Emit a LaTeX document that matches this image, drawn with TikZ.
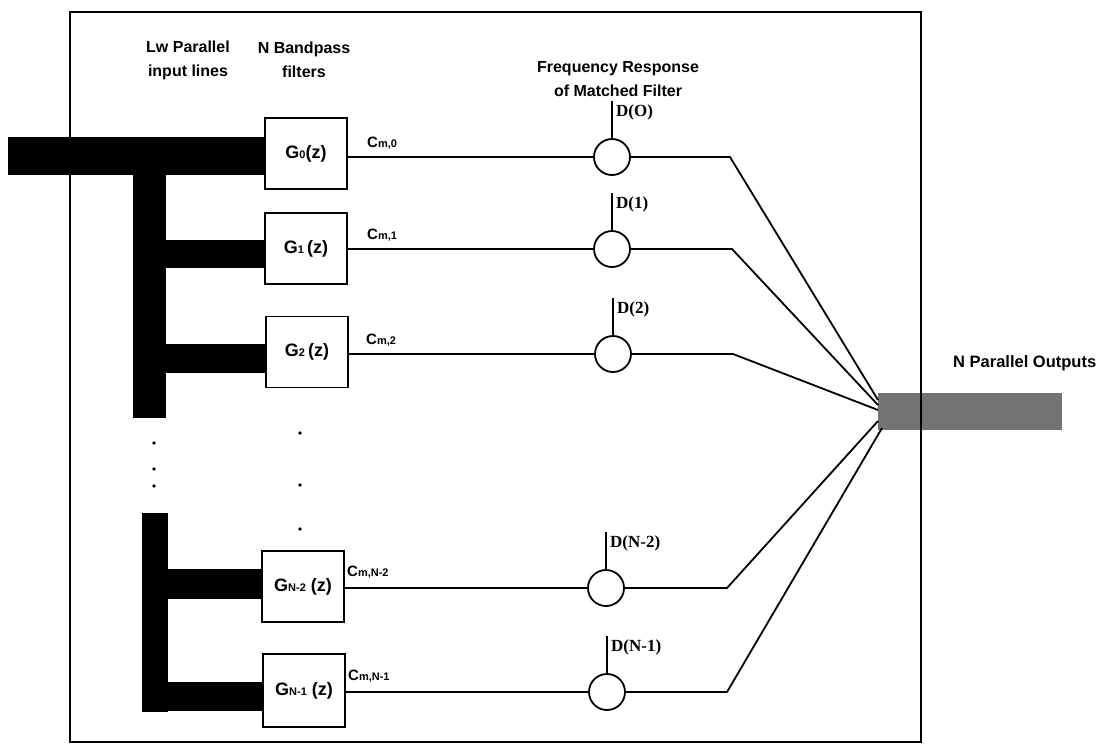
\documentclass[tikz,border=0pt]{standalone}
\usepackage{fontspec}
\setmainfont{Liberation Sans}
\newfontfamily\serifb{Liberation Serif}
\usetikzlibrary{calc}
\newcommand\smtxt[1]{{\fontsize{11}{11}\selectfont #1}}
\begin{document}
\begin{tikzpicture}[x=1pt,y=-1pt,
  lbl/.style={font={\fontsize{16}{24}\selectfont\bfseries}, align=center, inner sep=0},
  gbox/.style={draw, line width=1.8pt, minimum width=82pt, minimum height=71pt, inner sep=0,
               font={\fontsize{18}{18}\selectfont\bfseries}},
  bar/.style={fill=black, draw=none, inner sep=0, anchor=north west},
  mf/.style={circle, draw, line width=1.8pt, minimum size=36pt, inner sep=0},
  dl/.style={font={\serifb\fontsize{17}{19}\selectfont\bfseries}, anchor=west, inner sep=0},
  cl/.style={font={\fontsize{15}{15}\selectfont\bfseries}, anchor=west, inner sep=0},
  wire/.style={line width=1.8pt},
  dotmark/.style={fill=black}
]
\useasboundingbox (0,0) rectangle (1105,745);

% output bundle (under the frame)
\node[bar, fill=black!55, minimum width=184pt, minimum height=37pt] (outbar) at (878,393) {};

% frame
\draw[line width=2pt] (70,12) rectangle (921,742);

% input bundle and branches
\node[bar, minimum width=125pt, minimum height=38pt] (inbar) at (8,137) {};
\node[bar, minimum width=33pt, minimum height=281pt] (vbarA) at (133,137) {};
\node[bar, minimum width=26pt, minimum height=199pt] (vbarB) at (142,513) {};
\node[bar, minimum width=99pt, minimum height=38pt] (br0) at (166,137) {};
\node[bar, minimum width=99pt, minimum height=28pt] (br1) at (166,240) {};
\node[bar, minimum width=100pt, minimum height=29pt] (br2) at (166,344) {};
\node[bar, minimum width=94pt, minimum height=30pt] (br3) at (168,569) {};
\node[bar, minimum width=95pt, minimum height=29pt] (br4) at (168,682) {};

% header labels
\node[lbl] (lw) at (188,60) {Lw Parallel\\input lines};
\node[lbl] (nb) at (304,60) {N Bandpass\\filters};
\node[lbl] (fr) at (618,79) {Frequency Response\\of Matched Filter};
\node[lbl, anchor=west, font={\fontsize{16.5}{20}\selectfont\bfseries}] (npo) at (953,363) {N Parallel Outputs};

% bandpass filter boxes
\node[gbox] (g0) at (306,153.5) {G\smtxt{0}(z)};
\node[gbox] (g1) at (306,248.5) {G\smtxt{1}\,(z)};
\node[gbox] (g2) at (307,352) {G\smtxt{2}\,(z)};
\node[gbox] (g3) at (303,586.5) {G\smtxt{N-2} (z)};
\node[gbox, minimum height=73pt] (g4) at (304,690.5) {G\smtxt{N-1} (z)};

% matched filter circles
\node[mf] (d0) at (612,157) {};
\node[mf] (d1) at (612,249) {};
\node[mf] (d2) at (613,354) {};
\node[mf] (d3) at (606,588) {};
\node[mf] (d4) at (607,692) {};

% channel labels
\node[cl] (c0) at (367,143) {C\smtxt{m,0}};
\node[cl] (c1) at (367,235) {C\smtxt{m,1}};
\node[cl] (c2) at (366,340) {C\smtxt{m,2}};
\node[cl] (c3) at (347,572) {C\smtxt{m,N-2}};
\node[cl] (c4) at (348,676) {C\smtxt{m,N-1}};

% wires box -> circle
\foreach \i in {0,...,4}{
  \draw[wire] (g\i.east |- d\i) -- (d\i.west);
}

% stubs and D labels
\foreach \i/\t in {0/D(O),1/D(1),2/D(2),3/D(N-2),4/D(N-1)}{
  \draw[wire] (d\i.north) -- ++(0,-37) coordinate (s\i);
  \node[dl] (dl\i) at ($(s\i)+(4,11)$) {\t};
}

% bends and fan-in points
\coordinate (b0) at (730,157);
\coordinate (b1) at (732,249);
\coordinate (b2) at (733,354);
\coordinate (b3) at (727,588);
\coordinate (b4) at (727,692);
\coordinate (f0) at (878,400);
\coordinate (f1) at (878,405);
\coordinate (f2) at (878,410);
\coordinate (f3) at (878,421);
\coordinate (f4) at (882,428);
\foreach \i in {0,...,4}{
  \draw[wire, line join=miter] (d\i.east) -- (b\i) -- (f\i);
}

% ellipsis dots
\foreach \p in {(154,443),(154,469),(154,486),(300,433),(300,485),(300,529)}{
  \fill[dotmark] \p circle (1.8);
}
\end{tikzpicture}
\end{document}
